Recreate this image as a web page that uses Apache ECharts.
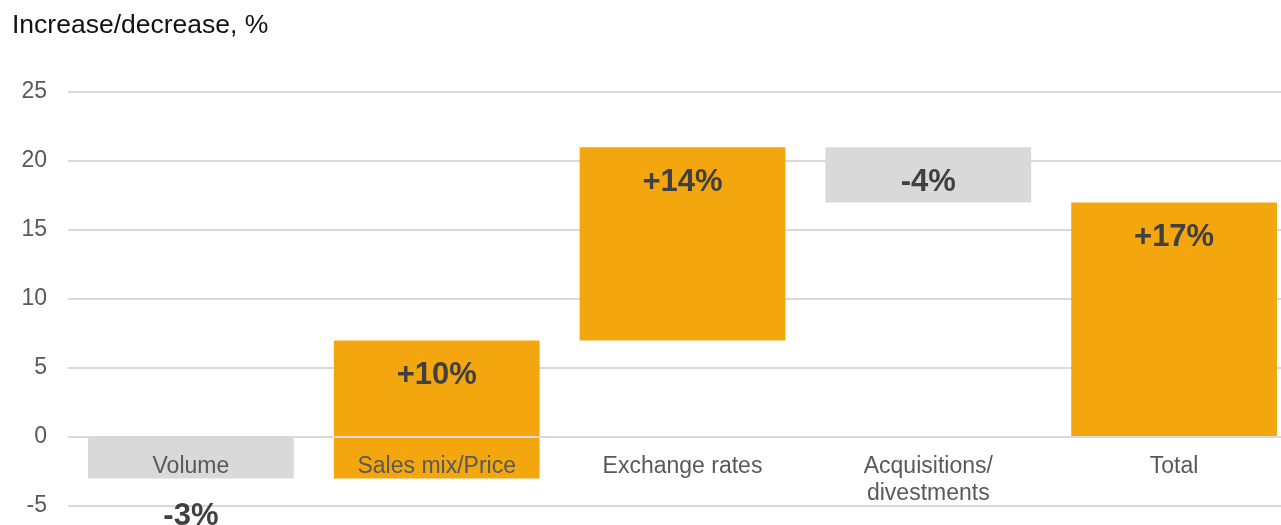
<!DOCTYPE html>
<html>
<head>
<meta charset="utf-8">
<script src="https://cdn.jsdelivr.net/npm/echarts@6/dist/echarts.min.js"></script>
<style>
  html, body { margin: 0; padding: 0; background: #fff; }
  #chart { width: 1281px; height: 525px; }
</style>
</head>
<body>
<div id="chart"></div>
<script>
// waterfall data
const categories = ['Volume', 'Sales mix/Price', 'Exchange rates', 'Acquisitions/\ndivestments', 'Total'];
const baseValues = [0, -3, 7, 21, 0];      // invisible offset
const deltaValues = [-3, 10, 14, -4, 17];  // visible step
const yTicks = [-5, 0, 5, 10, 15, 20, 25];

const ORANGE = '#F4A60F';
const GREY = '#D9D9D9';

let myChart = echarts.init(document.getElementById('chart'));

const option = {
  animation: false,
  title: {
    text: 'Increase/decrease, %',
    left: 7,
    top: 7,
    textStyle: { fontFamily: 'Liberation Sans', fontSize: 26.5, fontWeight: 'normal', color: '#111' }
  },
  // plot area runs past the right edge, like the original
  grid: { top: 92, left: 68, right: -16, bottom: 19, outerBoundsMode: 'none' },
  xAxis: {
    type: 'category',
    data: categories,
    z: 5,
    axisLine: { show: false, onZero: false },
    axisTick: { show: false },
    axisLabel: {
      margin: -53,              // pull labels up under the zero line
      verticalAlign: 'top',
      fontFamily: 'Liberation Sans',
      fontSize: 23,
      lineHeight: 27,
      color: '#595959',
      interval: 0
    }
  },
  yAxis: {
    type: 'value',
    min: yTicks[0],
    max: yTicks[yTicks.length - 1],
    interval: 5,
    axisLine: { show: false },
    axisTick: { show: false },
    axisLabel: { margin: 21, fontFamily: 'Liberation Sans', fontSize: 23, color: '#595959' },
    splitLine: { lineStyle: { color: '#D9D9D9', width: 2 } }
  },
  series: [
    {
      name: 'base',
      type: 'bar',
      stack: 'wf',
      stackStrategy: 'all',
      barCategoryGap: '16.3%',
      itemStyle: { color: 'transparent' },
      emphasis: { disabled: true },
      data: baseValues
    },
    {
      name: 'delta',
      type: 'bar',
      stack: 'wf',
      stackStrategy: 'all',
      barCategoryGap: '16.3%',
      data: deltaValues.map((v, i) => ({
        value: v,
        itemStyle: { color: (v < 0) ? GREY : ORANGE },
        label: (i === 0) ? { position: 'bottom', distance: 23 } : {}
      })),
      label: {
        show: true,
        position: 'insideTop',
        distance: 20,
        fontFamily: 'Liberation Sans',
        fontSize: 31,
        fontWeight: 'bold',
        color: '#404040',
        formatter: function (p) {
          return (p.value > 0 ? '+' : '') + p.value + '%';
        }
      },
      markLine: {
        silent: true,
        symbol: 'none',
        label: { show: false },
        lineStyle: { color: '#D9D9D9', width: 2, type: 'solid' },
        data: [{ yAxis: 0 }]
      }
    }
  ]
};
myChart.setOption(option);
</script>
</body>
</html>
